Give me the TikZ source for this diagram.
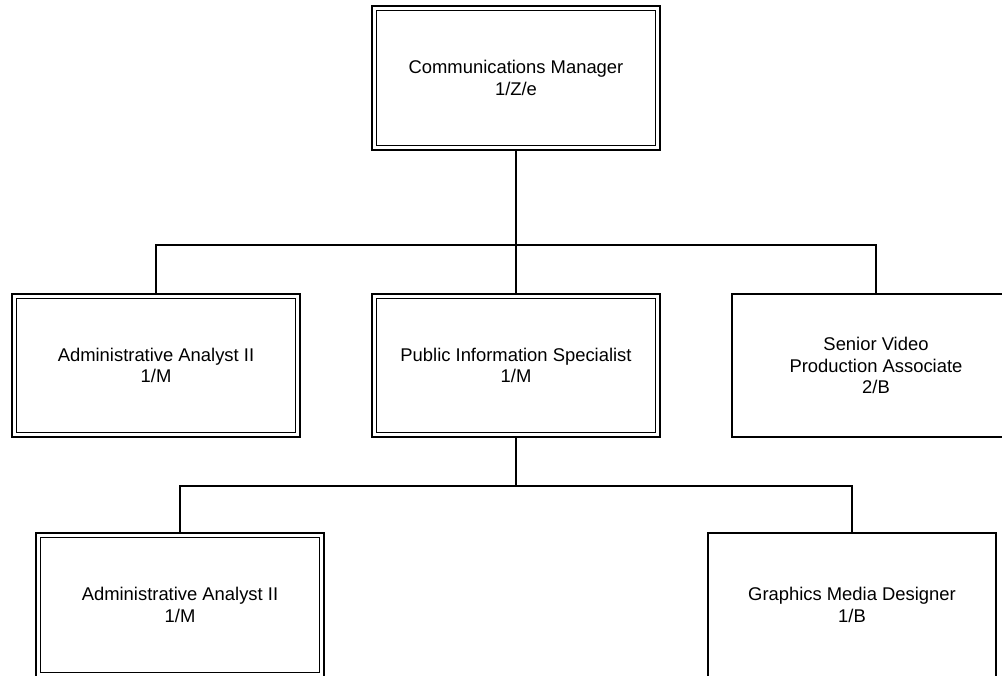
\documentclass[tikz,border=0pt]{standalone}
\usepackage{fontspec}
\setmainfont{Liberation Sans}
\begin{document}
\begin{tikzpicture}[x=1pt,y=-1pt,
  box/.style={draw=black, line width=2pt, fill=white, minimum width=288pt, minimum height=144pt,
    inner sep=0pt, outer sep=0pt, align=center, font=\fontsize{18.4}{21.5}\selectfont},
  conn/.style={draw=black, line width=2.4pt},
  innerline/.style={draw=black, line width=1.2pt}]
\useasboundingbox (0,0) rectangle (1002,676);
\begin{scope}
\clip (0,0) rectangle (1002,676);
% connectors
\coordinate (j1) at (516,245);
\coordinate (j2) at (516,486);
\node[box] (top) at (516,78) {Communications Manager\\1/Z/e};
\node[box, minimum height=143pt] (admin) at (156,365.5) {Administrative Analyst II\\1/M};
\node[box, minimum height=143pt] (public) at (516,365.5) {Public Information Specialist\\1/M};
\node[box, minimum height=143pt] (senior) at (876,365.5) {Senior Video\\Production Associate\\2/B};
\node[box] (admin2) at (180,605) {Administrative Analyst II\\1/M};
\node[box] (graphics) at (852,605) {Graphics Media Designer\\1/B};
\draw[conn] (top.south) -- (j1);
\draw[conn] (j1) -| (admin.north);
\draw[conn] (j1) -| (senior.north);
\draw[conn] (j1) -- (public.north);
\draw[conn] (public.south) -- (j2);
\draw[conn] (j2) -| (admin2.north);
\draw[conn] (j2) -| (graphics.north);
\foreach \n in {top,admin,public,admin2}{
  \draw[innerline] ([shift={(4.6pt,-4.6pt)}]\n.north west) rectangle ([shift={(-4.6pt,4.6pt)}]\n.south east);
}
\end{scope}
\end{tikzpicture}
\end{document}
